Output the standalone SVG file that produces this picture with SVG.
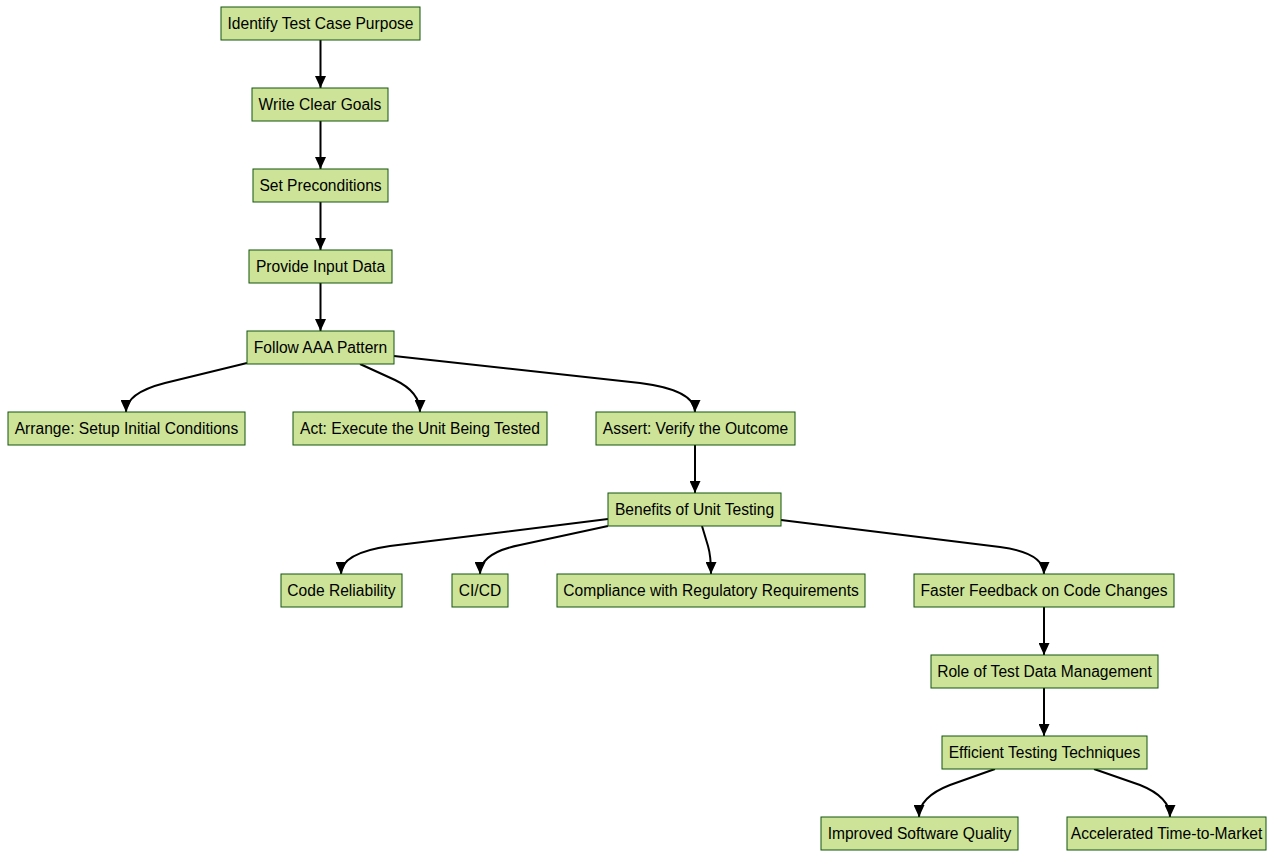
<svg xmlns="http://www.w3.org/2000/svg" width="1280" height="857" viewBox="0 0 1280 857">
<style>
.n rect{fill:#cde498;stroke:#13540c;stroke-width:1}
.n text{font-family:"Liberation Sans",Arial,sans-serif;font-size:15.6px;fill:#000;text-anchor:middle;dominant-baseline:central}
.e path{fill:none;stroke:#000;stroke-width:2}
</style>
<defs>
<marker id="ah" viewBox="0 0 12 11" refX="12" refY="5.5" markerWidth="12" markerHeight="11" markerUnits="userSpaceOnUse" orient="auto">
<path d="M0,0 L12,5.5 L0,11 z" fill="#000"/>
</marker>
</defs>
<rect width="1280" height="857" fill="#fff"/>
<g id="connectors" class="e">
<path d="M320.5,40 L320.5,88" marker-end="url(#ah)"/>
<path d="M320.5,121 L320.5,169" marker-end="url(#ah)"/>
<path d="M320.5,202 L320.5,250" marker-end="url(#ah)"/>
<path d="M320.5,283 L320.5,331" marker-end="url(#ah)"/>
<path d="M247,363 L165,383 Q126,393 126,412" marker-end="url(#ah)"/>
<path d="M360,364 L395,380 Q420,392 420,412" marker-end="url(#ah)"/>
<path d="M394,356 L640,383 Q695,390 695,412" marker-end="url(#ah)"/>
<path d="M695,445 L695,493" marker-end="url(#ah)"/>
<path d="M608,519 L390,546 Q341,553 341,574" marker-end="url(#ah)"/>
<path d="M608,526 L520,545 Q480,553 480,574" marker-end="url(#ah)"/>
<path d="M702,526 L708,546 Q711,556 711,574" marker-end="url(#ah)"/>
<path d="M781,520 L1000,547 Q1044,553 1044,574" marker-end="url(#ah)"/>
<path d="M1044,607 L1044,655" marker-end="url(#ah)"/>
<path d="M1044,688 L1044,736" marker-end="url(#ah)"/>
<path d="M995,769 L950,785 Q919,797 919,817" marker-end="url(#ah)"/>
<path d="M1094,769 L1140,785 Q1170,797 1170,817" marker-end="url(#ah)"/>
</g>
<g id="n1" class="n"><rect x="221" y="7" width="199" height="33"/><text x="320.5" y="23">Identify Test Case Purpose</text></g>
<g id="n2" class="n"><rect x="252" y="88" width="136" height="33"/><text x="320" y="104">Write Clear Goals</text></g>
<g id="n3" class="n"><rect x="253" y="169" width="135" height="33"/><text x="320.5" y="185">Set Preconditions</text></g>
<g id="n4" class="n"><rect x="249" y="250" width="143" height="33"/><text x="320.5" y="266">Provide Input Data</text></g>
<g id="n5" class="n"><rect x="247" y="331" width="147" height="33"/><text x="320.5" y="347">Follow AAA Pattern</text></g>
<g id="n6" class="n"><rect x="8" y="412" width="237" height="33"/><text x="126.5" y="428">Arrange: Setup Initial Conditions</text></g>
<g id="n7" class="n"><rect x="293" y="412" width="254" height="33"/><text x="420" y="428">Act: Execute the Unit Being Tested</text></g>
<g id="n8" class="n"><rect x="596" y="412" width="199" height="33"/><text x="695.5" y="428">Assert: Verify the Outcome</text></g>
<g id="n9" class="n"><rect x="608" y="493" width="173" height="33"/><text x="694.5" y="509">Benefits of Unit Testing</text></g>
<g id="n10" class="n"><rect x="281" y="574" width="121" height="33"/><text x="341.5" y="590">Code Reliability</text></g>
<g id="n11" class="n"><rect x="452" y="574" width="56" height="33"/><text x="480" y="590">CI/CD</text></g>
<g id="n12" class="n"><rect x="557" y="574" width="308" height="33"/><text x="711" y="590">Compliance with Regulatory Requirements</text></g>
<g id="n13" class="n"><rect x="914" y="574" width="260" height="33"/><text x="1044" y="590">Faster Feedback on Code Changes</text></g>
<g id="n14" class="n"><rect x="931" y="655" width="227" height="33"/><text x="1044.5" y="671">Role of Test Data Management</text></g>
<g id="n15" class="n"><rect x="942" y="736" width="205" height="33"/><text x="1044.5" y="752">Efficient Testing Techniques</text></g>
<g id="n16" class="n"><rect x="821" y="817" width="197" height="33"/><text x="919.5" y="833">Improved Software Quality</text></g>
<g id="n17" class="n"><rect x="1067" y="817" width="199" height="33"/><text x="1166.5" y="833">Accelerated Time-to-Market</text></g>
</svg>
